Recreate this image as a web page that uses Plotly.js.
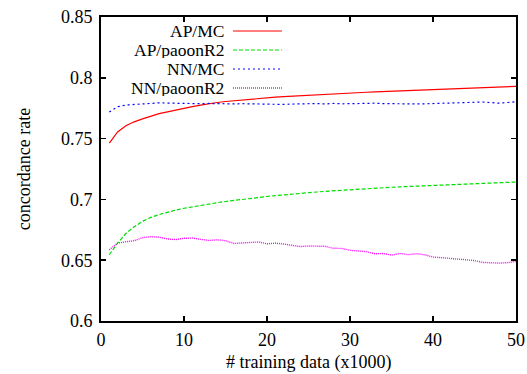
<!DOCTYPE html>
<html>
<head>
<meta charset="utf-8">
<script src="https://cdn.plot.ly/plotly-3.0.1.min.js"></script>
<style>html,body{margin:0;padding:0;background:#fff}#chart{width:527px;height:374px}</style>
</head>
<body>
<div id="chart"></div>
<script>
// x: training data size (x1000)
const trainingData = [1,2,3,4,5,6,7,8,9,10,11,12,13,14,15,16,17,18,19,20,21,22,23,24,25,26,27,28,29,30,31,32,33,34,35,36,37,38,39,40,41,42,43,44,45,46,47,48,49,50];

const seriesNames = ["AP/MC", "AP/paoonR2", "NN/MC", "NN/paoonR2"];

const apMC = [0.7463,0.7555,0.7605,0.7638,0.7662,0.7685,0.7705,0.7720,0.7736,0.7750,
  0.7763,0.7776,0.7788,0.7797,0.7805,0.7812,0.7819,0.7825,0.7831,0.7836,
  0.7841,0.7846,0.7850,0.7854,0.7858,0.7862,0.7866,0.7869,0.7872,0.7875,
  0.7878,0.7881,0.7884,0.7887,0.7890,0.7893,0.7896,0.7899,0.7902,0.7905,
  0.7908,0.7910,0.7913,0.7915,0.7918,0.7920,0.7922,0.7925,0.7927,0.7930];

const apPaoonR2 = [0.6545,0.6640,0.6720,0.6775,0.6820,0.6852,0.6875,0.6895,0.6912,0.6927,
  0.6940,0.6952,0.6963,0.6973,0.6983,0.6992,0.7001,0.7009,0.7017,0.7024,
  0.7031,0.7038,0.7044,0.7050,0.7056,0.7061,0.7066,0.7071,0.7076,0.7080,
  0.7084,0.7088,0.7092,0.7096,0.7100,0.7103,0.7106,0.7109,0.7112,0.7115,
  0.7118,0.7121,0.7124,0.7127,0.7130,0.7132,0.7135,0.7137,0.7140,0.7143];

const nnMC = [0.7719,0.7762,0.7776,0.7782,0.7788,0.7791,0.7794,0.7792,0.7790,0.7788,
  0.7790,0.7787,0.7789,0.7786,0.7787,0.7785,0.7787,0.7786,0.7784,0.7785,
  0.7778,0.7781,0.7784,0.7786,0.7784,0.7788,0.7785,0.7789,0.7786,0.7788,
  0.7790,0.7789,0.7791,0.7788,0.7786,0.7783,0.7787,0.7785,0.7786,0.7788,
  0.7787,0.7790,0.7791,0.7794,0.7797,0.7801,0.7796,0.7791,0.7797,0.7803];

const nnPaoonR2 = [0.6586,0.6640,0.6652,0.6660,0.6685,0.6693,0.6690,0.6675,0.6670,0.6680,
  0.6682,0.6672,0.6662,0.6668,0.6660,0.6638,0.6640,0.6648,0.6650,0.6635,
  0.6640,0.6633,0.6625,0.6612,0.6617,0.6618,0.6614,0.6598,0.6597,0.6582,
  0.6578,0.6570,0.6553,0.6555,0.6542,0.6555,0.6546,0.6553,0.6545,0.6525,
  0.6521,0.6518,0.6509,0.6503,0.6497,0.6482,0.6478,0.6476,0.6480,0.6490];

const xTicks = [0,10,20,30,40,50];
const xTickText = ["0","10","20","30","40","50"];
const yTicks = [0.6,0.65,0.7,0.75,0.8,0.85];
const yTickText = ["0.6","0.65","0.7","0.75","0.8","0.85"];
const xTitle = "# training data (x1000)";
const yTitle = "concordance rate";

const allSeries = [apMC, apPaoonR2, nnMC, nnPaoonR2];
const colors = ["#ff0000", "#00dd00", "#0000ff", "#ff00ff"];
const dashes = ["solid", "4px,2px", "2px,3px", "1px,1px"];
const widths = [1.2, 1.2, 1.2, 1.4];

const FONT = "'Liberation Serif', 'Times New Roman', Times, serif";
const FS = 18;

const traces = allSeries.map((ys, i) => ({
  x: trainingData, y: ys, type: "scatter", mode: "lines",
  name: seriesNames[i], showlegend: false,
  line: {color: colors[i], width: widths[i], dash: dashes[i]}
}));

// manual gnuplot-style key: text right-aligned, sample line to its right
const annotations = [];
const shapes = [];
const keyTop = 0.954, keyStep = 0.0625;
seriesNames.forEach((nm, i) => {
  const yy = keyTop - i * keyStep;
  annotations.push({xref: "paper", yref: "paper", x: 0.298, y: yy, xanchor: "right", yanchor: "middle",
    height: 17, valign: "middle", borderpad: 0,
    text: nm, showarrow: false, font: {family: FONT, size: 17.5, color: "#000"}});
  shapes.push({type: "line", xref: "paper", yref: "paper", x0: 0.318, x1: 0.436, y0: yy, y1: yy,
    line: {color: colors[i], width: widths[i], dash: dashes[i]}});
});
// x-axis title placed low, as in the reference
annotations.push({xref: "paper", yref: "paper", x: 0.5, y: 0, xanchor: "center", yanchor: "middle",
  yshift: -41, text: xTitle, showarrow: false, font: {family: FONT, size: FS, color: "#000"}});

const axisCommon = {
  showgrid: false, zeroline: false, showline: true, linecolor: "#000", linewidth: 2,
  mirror: "ticks", ticks: "inside", ticklen: 5, tickwidth: 1.5, tickcolor: "#000",
  tickfont: {family: FONT, size: FS, color: "#000"}
};

const layout = {
  width: 527, height: 374,
  margin: {l: 101, r: 11, t: 17, b: 53},
  paper_bgcolor: "#fff", plot_bgcolor: "#fff",
  showlegend: false,
  font: {family: FONT, size: FS, color: "#000"},
  xaxis: Object.assign({}, axisCommon, {
    range: [0, 50], tickvals: xTicks, ticktext: xTickText, ticklabelstandoff: 1
  }),
  yaxis: Object.assign({}, axisCommon, {
    range: [0.6, 0.85], tickvals: yTicks, ticktext: yTickText, ticklabelstandoff: 3,
    title: {text: yTitle, font: {family: FONT, size: FS, color: "#000"}, standoff: 26}
  }),
  annotations: annotations,
  shapes: shapes
};

Plotly.newPlot("chart", traces, layout, {displayModeBar: false, staticPlot: true});
</script>
</body>
</html>
